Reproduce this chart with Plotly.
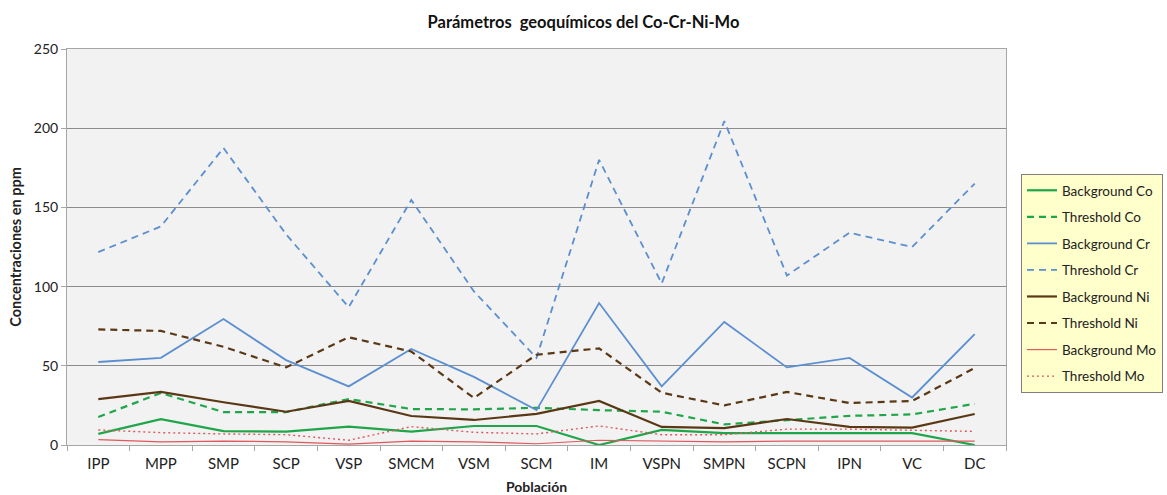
import plotly.graph_objects as go

poblaciones = ["IPP", "MPP", "SMP", "SCP", "VSP", "SMCM", "VSM", "SCM",
               "IM", "VSPN", "SMPN", "SCPN", "IPN", "VC", "DC"]

background_co = [7, 16.3, 8.8, 8.5, 11.6, 8.5, 12, 12, 0, 9.5, 7.5, 7.5, 7.5, 7.5, 0]
threshold_co = [17.7, 32.8, 20.8, 20.8, 29, 22.7, 22.5, 23.5, 22, 21, 13, 15.8, 18.4, 19.3, 26]
background_cr = [52.4, 55, 79.5, 53.6, 37, 60.6, 43, 22, 89.6, 37, 77.7, 49, 55, 30, 70]
threshold_cr = [121.8, 138, 187.5, 133, 87, 154.7, 97, 55, 180, 102, 204.5, 107, 134, 125, 165]
background_ni = [29, 33.5, 27, 21, 27.8, 18.3, 15.8, 19.6, 27.8, 11.4, 10.7, 16.4, 11.4, 11, 19.6]
threshold_ni = [73, 72, 62, 49, 68, 59, 29.7, 57, 61, 33, 25, 33.5, 26.5, 27.8, 48.6]
background_mo = [3.4, 2, 2.5, 2, 0.5, 2.5, 2, 0.8, 3, 2.5, 2, 2.5, 2.5, 2.5, 2.5]
threshold_mo = [9.5, 7.8, 7, 6.5, 3, 11.6, 8, 7, 12, 6.5, 6.5, 10, 10, 9.5, 8.6]

series = [
    ("Background Co", background_co, "#1fa64a", "solid", 2.2),
    ("Threshold Co", threshold_co, "#1fa64a", "7px,5px", 2.2),
    ("Background Cr", background_cr, "#5b8fd0", "solid", 1.8),
    ("Threshold Cr", threshold_cr, "#5b8fd0", "7px,5px", 1.8),
    ("Background Ni", background_ni, "#5a3815", "solid", 2.2),
    ("Threshold Ni", threshold_ni, "#5a3815", "7px,5px", 2.2),
    ("Background Mo", background_mo, "#e0575e", "solid", 1.2),
    ("Threshold Mo", threshold_mo, "#e0575e", "2px,3px", 1.4),
]

font_family = "Lato, 'Open Sans', sans-serif"

fig = go.Figure()
for i, (name, vals, color, dash, width) in enumerate(series):
    fig.add_trace(go.Scatter(
        x=poblaciones, y=vals, mode="lines", name=name,
        legendgroup=f"g{i}",
        line=dict(color=color, dash=dash, width=width),
    ))

fig.update_layout(
    width=1167, height=495,
    margin=dict(l=67, r=161, t=49, b=50),
    paper_bgcolor="white",
    plot_bgcolor="#f2f2f2",
    font=dict(family=font_family, size=15, color="#222222"),
    title=dict(
        text="<b>Parámetros  geoquímicos del Co-Cr-Ni-Mo</b>",
        x=0.5, xanchor="center", y=0.955, yanchor="middle",
        font=dict(size=16.5, color="#111111"),
    ),
    legend=dict(
        xref="container", yref="container",
        x=1021 / 1167, xanchor="left", y=1 - 174 / 495, yanchor="top",
        bgcolor="#ffffcc", bordercolor="#7f7f7f", borderwidth=1,
        font=dict(size=13.5, color="#222222"),
        tracegroupgap=6,
        itemwidth=30,
    ),
    showlegend=True,
)

fig.update_xaxes(
    title=dict(text="<b>Población</b>", font=dict(size=14), standoff=15),
    automargin=False,
    showgrid=False, showline=True, linecolor="#a6a6a6", linewidth=1,
    mirror=True,
    ticks="outside", ticklen=5, tickcolor="#a6a6a6",
    tickson="boundaries", ticklabelstandoff=5,
    tickfont=dict(size=15),
    range=[-0.5, 14.5],
)
fig.update_yaxes(
    title=dict(text="<b>Concentraciones en ppm</b>", font=dict(size=14.5), standoff=8),
    automargin=False,
    range=[0, 250], tickvals=[0, 50, 100, 150, 200, 250],
    tickfont=dict(size=14),
    showgrid=True, gridcolor="#8c8c8c", gridwidth=1,
    showline=True, linecolor="#a6a6a6", linewidth=1, mirror=True,
    ticks="outside", ticklen=5, tickcolor="#a6a6a6",
    zeroline=False,
)

fig.write_html("out.html")
